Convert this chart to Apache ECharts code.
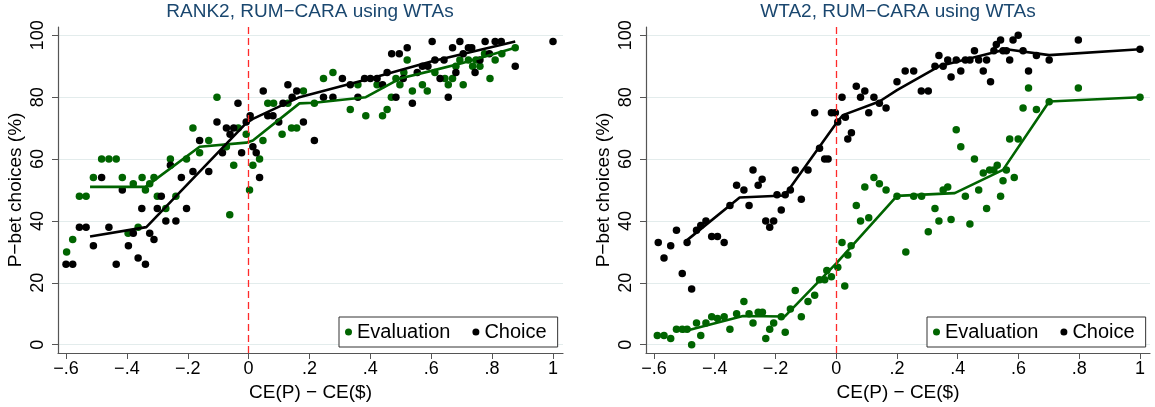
<!DOCTYPE html>
<html>
<head>
<meta charset="utf-8">
<script src="https://cdn.jsdelivr.net/npm/echarts@6/dist/echarts.min.js"></script>
<style>
html, body { margin: 0; padding: 0; background: #fff; }
#chart { width: 1155px; height: 407px; }
</style>
</head>
<body>
<div id="chart"></div>
<script>
// tick labels
var xTicks = [-0.6, -0.4, -0.2, 0, 0.2, 0.4, 0.6, 0.8, 1];
var yTicks = [0, 20, 40, 60, 80, 100];
var panelTitles = ['RANK2, RUM\u2212CARA using WTAs', 'WTA2, RUM\u2212CARA using WTAs'];
var seriesNames = ['Evaluation', 'Choice'];

// left panel: RANK2
var rankEval = [[-0.598,30],[-0.578,34],[-0.556,48],[-0.534,48],[-0.51,54],[-0.483,60],[-0.459,60],[-0.435,60],[-0.415,54],[-0.379,52],[-0.35,54],[-0.339,50],[-0.325,52],[-0.311,54],[-0.396,36],[-0.363,38],[-0.3,48],[-0.272,44],[-0.239,48],[-0.257,60],[-0.204,60],[-0.183,70],[-0.161,62],[-0.131,66],[-0.104,80],[-0.073,64],[-0.062,42],[-0.049,58],[-0.034,70],[-0.008,68],[0.003,50],[0.014,58],[0.036,60],[0.047,66],[0.063,78],[0.082,78],[0.11,68],[0.129,78],[0.141,70],[0.158,70],[0.18,82],[0.216,78],[0.246,86],[0.277,88],[0.334,76],[0.359,84],[0.385,74],[0.422,84],[0.44,74],[0.455,76],[0.469,80],[0.484,86],[0.497,84],[0.51,88],[0.521,92],[0.538,82],[0.571,84],[0.587,82],[0.612,88],[0.645,86],[0.656,84],[0.67,86],[0.681,90],[0.694,92],[0.705,84],[0.722,92],[0.736,90],[0.747,92],[0.76,90],[0.775,94],[0.793,86],[0.81,92],[0.832,94],[0.876,96]];
var rankChoice = [[-0.6,26],[-0.578,26],[-0.556,38],[-0.534,38],[-0.51,32],[-0.483,54],[-0.459,38],[-0.435,26],[-0.415,50],[-0.395,32],[-0.379,36],[-0.363,28],[-0.351,44],[-0.339,26],[-0.325,36],[-0.311,34],[-0.3,44],[-0.287,48],[-0.272,40],[-0.257,58],[-0.239,40],[-0.221,54],[-0.204,44],[-0.183,56],[-0.161,66],[-0.131,56],[-0.104,72],[-0.086,62],[-0.073,70],[-0.049,70],[-0.061,68],[-0.035,78],[-0.023,62],[-0.008,72],[0.005,74],[0.014,64],[0.025,62],[0.036,54],[0.048,82],[0.063,74],[0.08,74],[0.099,72],[0.113,78],[0.129,84],[0.143,80],[0.158,82],[0.18,72],[0.216,66],[0.246,80],[0.277,80],[0.308,86],[0.334,84],[0.359,80],[0.381,86],[0.4,86],[0.422,86],[0.44,84],[0.455,88],[0.47,94],[0.495,94],[0.484,80],[0.508,86],[0.521,96],[0.538,78],[0.554,88],[0.571,90],[0.589,90],[0.603,98],[0.612,92],[0.629,86],[0.642,92],[0.656,80],[0.67,96],[0.681,88],[0.694,98],[0.705,94],[0.722,96],[0.733,96],[0.744,88],[0.76,92],[0.777,98],[0.791,94],[0.81,98],[0.83,98],[0.876,90],[1.0,98]];
var rankEvalFit = [[-0.521,51],[-0.339,51],[-0.161,64],[-0.008,65.3],[0.014,66],[0.167,78],[0.216,78.2],[0.385,80],[0.497,86],[0.6,88.5],[0.7,91],[0.876,96]];
var rankChoiceFit = [[-0.521,35],[-0.336,38],[-0.008,71.6],[0.014,73],[0.167,80],[0.4,86],[0.6,91.5],[0.876,98]];

// right panel: WTA2
var wtaEval = [[-0.589,3],[-0.567,3],[-0.545,2],[-0.526,5],[-0.507,5],[-0.491,5],[-0.476,0],[-0.46,7],[-0.446,3],[-0.429,7],[-0.41,9],[-0.391,8.5],[-0.369,9],[-0.35,5],[-0.328,10],[-0.304,14],[-0.287,10],[-0.274,7],[-0.257,10.5],[-0.243,10.5],[-0.232,2],[-0.219,5],[-0.206,7],[-0.181,9],[-0.168,4],[-0.151,11.5],[-0.135,17.5],[-0.115,9],[-0.093,14],[-0.071,16],[-0.055,21],[-0.038,21],[-0.031,24],[-0.016,22],[0.005,25],[0.019,33],[0.028,19],[0.038,29],[0.049,32],[0.066,45],[0.08,40],[0.094,51],[0.107,41],[0.124,54],[0.142,52],[0.164,50],[0.2,48],[0.229,30],[0.255,48],[0.281,48],[0.303,36.5],[0.325,44],[0.338,40],[0.352,50],[0.367,51],[0.378,40.5],[0.395,69.5],[0.41,64],[0.425,48],[0.44,39],[0.455,60],[0.469,50],[0.484,55.5],[0.495,44],[0.505,56.5],[0.519,56.5],[0.53,58],[0.541,48],[0.549,53],[0.56,56.5],[0.571,66.5],[0.599,66.5],[0.586,54],[0.615,76.5],[0.633,83],[0.659,76],[0.701,78.5],[0.797,83],[1.0,80]];
var wtaChoice = [[-0.586,33],[-0.567,28],[-0.545,32],[-0.526,37],[-0.507,23],[-0.491,33],[-0.476,18],[-0.46,37],[-0.446,38.5],[-0.429,40],[-0.41,35],[-0.391,35],[-0.369,33],[-0.35,45],[-0.328,51.5],[-0.304,50],[-0.287,45],[-0.274,56.5],[-0.257,51.5],[-0.244,53.5],[-0.232,40],[-0.219,38],[-0.206,40],[-0.195,48.5],[-0.181,43.5],[-0.168,48.5],[-0.151,50],[-0.135,56.5],[-0.115,47],[-0.093,56.5],[-0.071,75],[-0.055,63.5],[-0.038,60],[-0.027,60],[-0.016,75],[-0.003,75],[0.005,72],[0.019,80],[0.03,73.5],[0.038,66.5],[0.05,68.5],[0.066,83.5],[0.08,80],[0.094,82],[0.107,75],[0.124,80],[0.142,78],[0.164,76.5],[0.2,85],[0.227,88.5],[0.255,88.5],[0.28,82],[0.303,82],[0.325,90],[0.338,93.5],[0.352,90],[0.367,92],[0.378,86.5],[0.395,92],[0.41,88.5],[0.425,92],[0.44,92],[0.455,95],[0.469,92],[0.484,88.5],[0.495,92],[0.508,85],[0.519,95],[0.527,97],[0.541,98.5],[0.549,95],[0.56,95],[0.571,92],[0.582,98.5],[0.599,100],[0.615,95],[0.633,88.5],[0.659,93.5],[0.701,92],[0.797,98.5],[1.0,95.5]];
var wtaEvalFit = [[-0.507,4.2],[-0.307,9.3],[-0.17,9.1],[0,26.3],[0.2,48.1],[0.39,49],[0.549,56.5],[0.701,78.6],[1.0,80]];
var wtaChoiceFit = [[-0.491,33.8],[-0.318,47.6],[-0.17,48.2],[0,71.6],[0.022,74.2],[0.142,78.6],[0.2,82.3],[0.341,90.1],[0.56,95.5],[0.701,93.6],[1.0,95.5]];

(function(){
var chart = echarts.init(document.getElementById('chart'));
var font = "'Liberation Sans', Arial, sans-serif";
var green = '#006400';
var black = '#000000';
var axisColor = '#555555';

function xFmt(v){
	v = Math.round(v * 10) / 10;
	if (v === 0) return '0';
	if (Math.abs(v) === 1) return (v < 0 ? '\u2212' : '') + '1';
	return (v < 0 ? '\u2212' : '') + String(Math.abs(v)).replace(/^0/, '');
}

function makeX(idx){
	return {
		type: 'value', gridIndex: idx, min: -0.6263, max: 1.0329,
		name: 'CE(P) \u2212 CE($)', nameLocation: 'middle', nameGap: 26,
		nameTextStyle: { fontFamily: font, fontSize: 19, color: '#000' },
		axisLine: { onZero: false, lineStyle: { color: axisColor, width: 1.2 } },
		axisTick: { show: true, length: 6, customValues: xTicks, lineStyle: { color: axisColor } },
		axisLabel: { customValues: xTicks, formatter: xFmt, margin: 7, fontFamily: font, fontSize: 18, color: '#000' },
		splitLine: { show: false }
	};
}

function makeY(idx){
	return {
		type: 'value', gridIndex: idx, min: -2.68, max: 102.68,
		name: 'P\u2212bet choices (%)', nameLocation: 'middle', nameGap: 33,
		nameTextStyle: { fontFamily: font, fontSize: 19, color: '#000' },
		axisLine: { show: true, onZero: false, lineStyle: { color: axisColor, width: 1.2 } },
		axisTick: { show: true, length: 6, customValues: yTicks, lineStyle: { color: axisColor } },
		axisLabel: { customValues: yTicks, rotate: 90, margin: 11, fontFamily: font, fontSize: 18, color: '#000' },
		splitLine: { show: true, lineStyle: { color: '#e3ecec', width: 1 } }
	};
}

function scatter(name, data, color, idx, withRefLine){
	var s = {
		name: name, type: 'scatter', xAxisIndex: idx, yAxisIndex: idx,
		data: data, symbol: 'circle', symbolSize: 7.5,
		itemStyle: { color: color, opacity: 1 }
	};
	if (withRefLine) {
		s.markLine = {
			silent: true, symbol: 'none', label: { show: false },
			lineStyle: { color: '#ff2a2a', width: 1.3, type: [7, 4] },
			data: [{ xAxis: 0 }]
		};
	}
	return s;
}

function fit(name, data, color, idx){
	return {
		name: name, type: 'line', xAxisIndex: idx, yAxisIndex: idx,
		data: data, showSymbol: false, symbol: 'none',
		lineStyle: { color: color, width: 2.6 }, itemStyle: { color: color }
	};
}

function legend(left){
	return {
		left: left, top: 317, orient: 'horizontal',
		data: [{ name: 'Evaluation', icon: 'circle' }, { name: 'Choice', icon: 'circle' }],
		itemWidth: 7, itemHeight: 7, itemGap: 22,
		padding: [5, 11, 5, 6],
		borderColor: '#333', borderWidth: 1, backgroundColor: '#fff',
		textStyle: { fontFamily: font, fontSize: 20, color: '#000' },
		selectedMode: false
	};
}

option = {
	animation: false,
	backgroundColor: '#fff',
	title: [
		{ text: panelTitles[0], left: 310, top: 2, textAlign: 'center', padding: 0,
		  textStyle: { fontFamily: font, fontSize: 19, fontWeight: 'normal', color: '#1a476f' } },
		{ text: panelTitles[1], left: 898, top: 2, textAlign: 'center', padding: 0,
		  textStyle: { fontFamily: font, fontSize: 19, fontWeight: 'normal', color: '#1a476f' } }
	],
	grid: [
		{ left: 58, right: 592, top: 27, bottom: 54 },
		{ left: 646, right: 5, top: 27, bottom: 54 }
	],
	legend: [legend(339), legend(927)],
	xAxis: [makeX(0), makeX(1)],
	yAxis: [makeY(0), makeY(1)],
	series: [
		scatter(seriesNames[0], rankEval, green, 0, true),
		scatter(seriesNames[1], rankChoice, black, 0, false),
		fit('Evaluation fit', rankEvalFit, green, 0),
		fit('Choice fit', rankChoiceFit, black, 0),
		scatter(seriesNames[0], wtaEval, green, 1, true),
		scatter(seriesNames[1], wtaChoice, black, 1, false),
		fit('Evaluation fit', wtaEvalFit, green, 1),
		fit('Choice fit', wtaChoiceFit, black, 1)
	]
};

chart.setOption(option);
})();
</script>
</body>
</html>
